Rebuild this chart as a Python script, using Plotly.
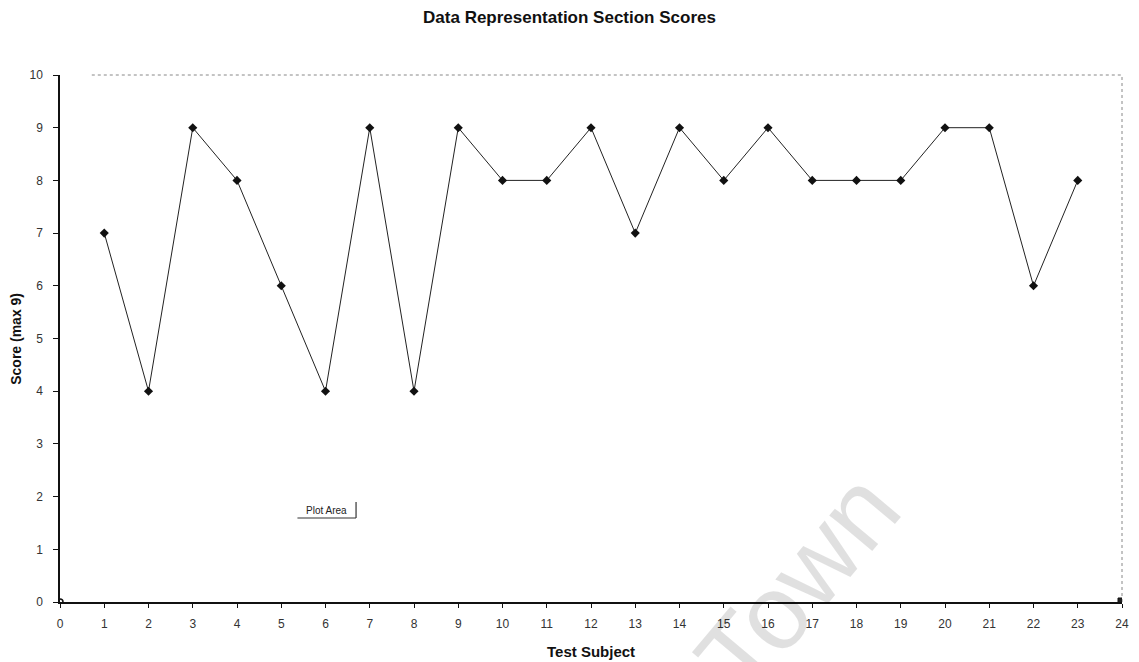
import plotly.graph_objects as go

# Scores per test subject (max 9)
subjects = list(range(1, 24))
scores = [7, 4, 9, 8, 6, 4, 9, 4, 9, 8, 8, 9, 7, 9, 8, 9, 8, 8, 8, 9, 9, 6, 8]
x_ticks = list(range(0, 25))
y_ticks = list(range(0, 11))

W, H = 1139, 662
ML, MR, MT, MB = 60, 10, 75, 60
PW, PH = W - ML - MR, H - MT - MB


def px_x(p):
    return (p - ML) / PW


def px_y(p):
    return (H - MB - p) / PH


fig = go.Figure(
    go.Scatter(
        x=subjects,
        y=scores,
        mode="lines+markers",
        line=dict(color="#222222", width=1),
        marker=dict(symbol="diamond", size=7, color="#111111"),
        cliponaxis=False,
        showlegend=False,
    )
)

SANS = "Liberation Sans, Arial, sans-serif"
tick_font = dict(family=SANS, size=12, color="#333333")

fig.update_layout(
    width=W,
    height=H,
    margin=dict(l=ML, r=MR, t=MT, b=MB),
    paper_bgcolor="white",
    plot_bgcolor="white",
    title=dict(
        text="<b>Data Representation Section Scores</b>",
        font=dict(family=SANS, size=17, color="#111111"),
        x=0.5,
        xref="container",
        xanchor="center",
        y=1 - 17 / H,
        yref="container",
        yanchor="middle",
    ),
    xaxis=dict(
        range=[0, 24],
        tickmode="array",
        tickvals=x_ticks,
        ticktext=[str(v) for v in x_ticks],
        showgrid=False,
        zeroline=False,
        showline=True,
        linecolor="#111111",
        linewidth=1.5,
        ticks="outside",
        ticklen=4,
        tickcolor="#111111",
        tickfont=tick_font,
        ticklabelstandoff=6,
    ),
    yaxis=dict(
        range=[0, 10],
        tickmode="array",
        tickvals=y_ticks,
        ticktext=[str(v) for v in y_ticks],
        showgrid=False,
        zeroline=False,
        showline=True,
        linecolor="#111111",
        linewidth=1.5,
        ticks="outside",
        ticklen=5,
        tickcolor="#111111",
        tickfont=tick_font,
        ticklabelstandoff=8,
    ),
)

# Faint, semi-transparent watermark so the tick labels stay readable through it
fig.add_annotation(
    text="Town", xref="paper", yref="paper",
    x=px_x(802), y=px_y(583), xanchor="center", yanchor="middle",
    textangle=-50, showarrow=False,
    font=dict(family=SANS, size=106, color="rgba(0,0,0,0.12)"),
)

# Axis titles
fig.add_annotation(
    text="<b>Test Subject</b>", xref="paper", yref="paper",
    x=0.5, y=px_y(651), xanchor="center", yanchor="middle",
    showarrow=False, font=dict(family=SANS, size=15, color="#111111"),
)
fig.add_annotation(
    text="<b>Score (max 9)</b>", xref="paper", yref="paper",
    x=px_x(15), y=0.5, xanchor="center", yanchor="middle",
    textangle=-90, showarrow=False, font=dict(family=SANS, size=14, color="#111111"),
)

# Dotted plot-area border (top and right)
fig.add_shape(type="line", xref="paper", yref="paper",
              x0=px_x(92), x1=1, y0=1, y1=1,
              line=dict(color="#888888", width=1, dash="dot"))
fig.add_shape(type="line", xref="paper", yref="paper",
              x0=1, x1=1, y0=0, y1=1,
              line=dict(color="#888888", width=1, dash="dot"))

# Selection handles at the plot-area corners
fig.add_shape(type="circle", xref="x", yref="y", xsizemode="pixel", ysizemode="pixel",
              xanchor=0, yanchor=0, x0=-3, x1=3, y0=-3, y1=3,
              line=dict(color="#111111", width=1.5), fillcolor="white")
fig.add_shape(type="rect", xref="x", yref="y", xsizemode="pixel", ysizemode="pixel",
              xanchor=24, yanchor=0, x0=-4, x1=3, y0=-3, y1=4,
              line=dict(color="#111111", width=1), fillcolor="#222222")

# "Plot Area" tooltip
fig.add_annotation(
    text="Plot Area", xref="paper", yref="paper",
    x=px_x(328), y=px_y(510), xanchor="center", yanchor="middle",
    showarrow=False,
    font=dict(family=SANS, size=10, color="#222222"),
)
fig.add_shape(type="line", xref="paper", yref="paper",
              x0=px_x(358), x1=px_x(358), y0=px_y(502), y1=px_y(518),
              line=dict(color="#333333", width=1.2))
fig.add_shape(type="line", xref="paper", yref="paper",
              x0=px_x(299), x1=px_x(358), y0=px_y(518), y1=px_y(518),
              line=dict(color="#333333", width=1.2))

fig.write_html("out.html")
